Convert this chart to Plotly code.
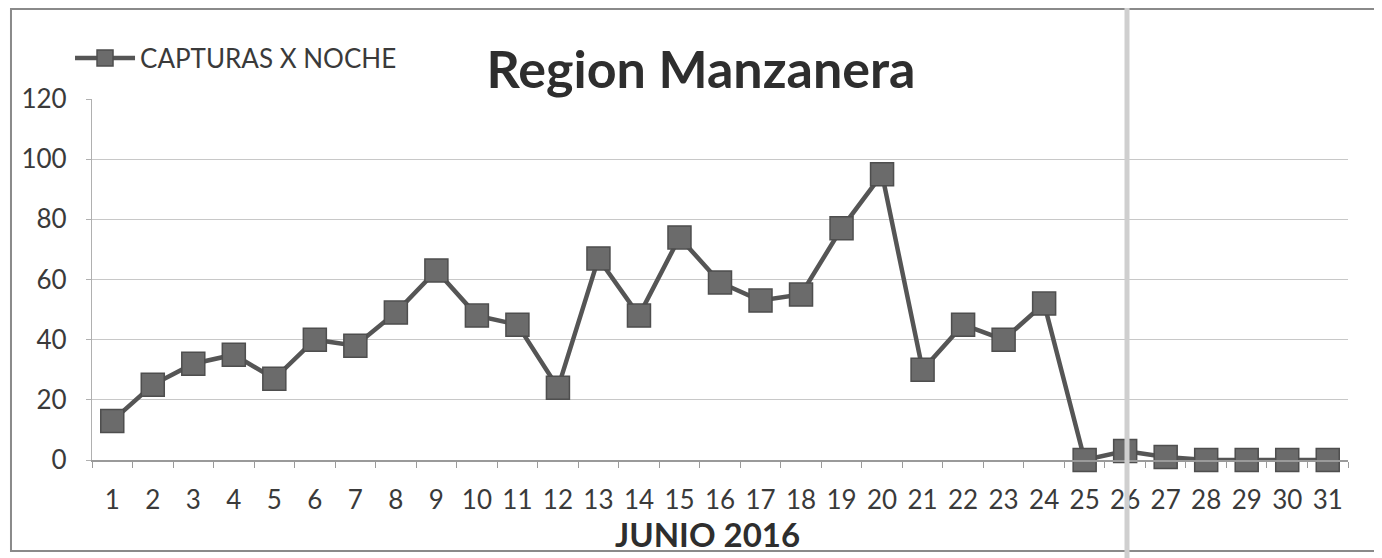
import plotly.graph_objects as go

days = [str(d) for d in range(1, 32)]
capturas = [13, 25, 32, 35, 27, 40, 38, 49, 63, 48, 45, 24, 67, 48, 74, 59,
            53, 55, 77, 95, 30, 45, 40, 52, 0, 3, 1, 0, 0, 0, 0]
y_ticks = [0, 20, 40, 60, 80, 100, 120]

FONT = "Lato"
TXT = "#3a3a3a"

W, H = 1374, 550  # page body adds an 8px offset

fig = go.Figure()
fig.add_trace(go.Scatter(
    x=days, y=capturas, mode="lines+markers", name="CAPTURAS X NOCHE",
    line=dict(color="#555555", width=4.5),
    marker=dict(symbol="square", size=23, color="#6b6b6b",
                line=dict(color="#4e4e4e", width=1.5)),
    cliponaxis=False,
))

fig.update_layout(
    width=W, height=H,
    margin=dict(l=84, r=34, t=91, b=98, autoexpand=False),
    paper_bgcolor="white", plot_bgcolor="white",
    font=dict(family=FONT, color=TXT),
    title=dict(text="<b>Region Manzanera</b>", x=693 / W, xref="container",
               xanchor="center", y=1 - 62 / H, yanchor="middle",
               font=dict(size=52, color="#2e2e2e", family=FONT)),
    showlegend=True,
    legend=dict(x=-0.0175, y=1.113, xanchor="left", yanchor="middle",
                font=dict(size=26, color=TXT, family=FONT),
                bgcolor="rgba(0,0,0,0)", itemwidth=60),
    xaxis=dict(type="category", range=[-0.5, 30.5], showgrid=False,
               automargin=False,
               showline=True, linecolor="#9a9a9a", linewidth=1.5,
               ticks="outside", tickson="boundaries", ticklen=6,
               tickcolor="#9a9a9a", tickfont=dict(size=26, color=TXT),
               ticklabelstandoff=16),
    yaxis=dict(range=[0, 120], tickvals=y_ticks, showgrid=True,
               automargin=False,
               gridcolor="#c8c8c8", gridwidth=1.3, showline=True,
               linecolor="#b0b0b0", linewidth=1.2, ticks="outside",
               ticklen=5, tickcolor="#b0b0b0", zeroline=False,
               tickfont=dict(size=26, color=TXT), ticklabelstandoff=14),
    annotations=[
        dict(text="<b>JUNIO 2016</b>", xref="paper", yref="paper",
             x=(707 - 92) / 1256, y=(460 - 534) / 361, xanchor="center",
             yanchor="middle", showarrow=False,
             font=dict(size=33, color="#2e2e2e", family=FONT)),
    ],
    shapes=[
        dict(type="rect", xref="paper", yref="paper",
             x0=-0.0645, x1=1.0231, y0=-0.252, y1=1.2493,
             line=dict(color="#8a8a8a", width=2)),
        dict(type="line", xref="paper", yref="paper",
             x0=(1127 - 92) / 1256, x1=(1127 - 92) / 1256, y0=-0.3, y1=1.3,
             line=dict(color="#cfcfcf", width=5)),
    ],
)

fig.write_html("out.html")
